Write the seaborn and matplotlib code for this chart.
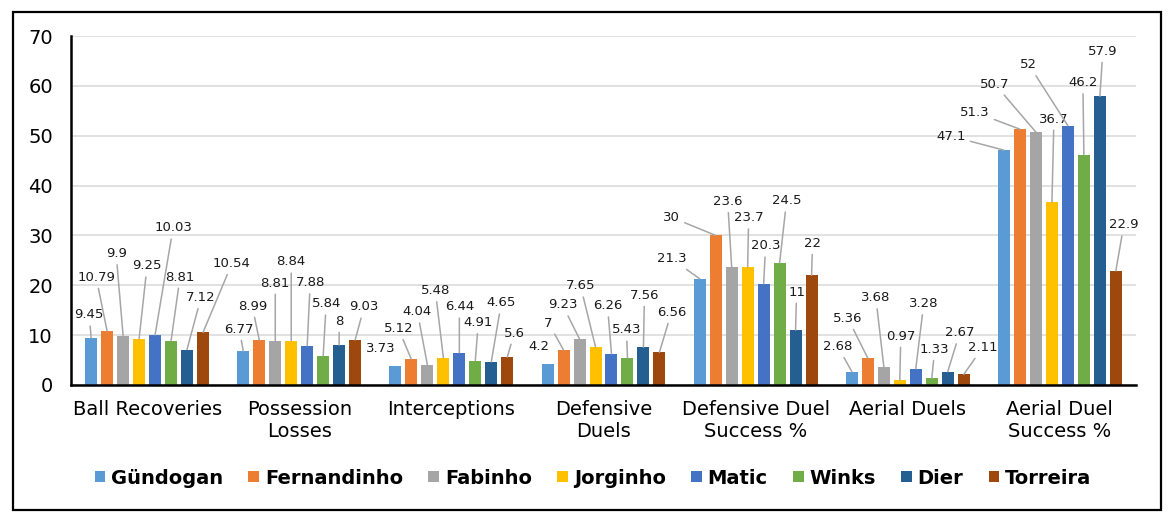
import numpy as np
import pandas as pd
import matplotlib
matplotlib.use("Agg")
import matplotlib.pyplot as plt
from matplotlib.patches import Patch, Rectangle
import seaborn as sns

# ---------------- data ----------------
categories = ["Ball Recoveries", "Possession\nLosses", "Interceptions", "Defensive\nDuels",
              "Defensive Duel\nSuccess %", "Aerial Duels", "Aerial Duel\nSuccess %"]
players = ["Gündogan", "Fernandinho", "Fabinho", "Jorginho", "Matic", "Winks", "Dier", "Torreira"]

gundogan = [9.45, 6.77, 3.73, 4.2, 21.3, 2.68, 47.1]
fernandinho = [10.79, 8.99, 5.12, 7, 30, 5.36, 51.3]
fabinho = [9.9, 8.81, 4.04, 9.23, 23.6, 3.68, 50.7]
jorginho = [9.25, 8.84, 5.48, 7.65, 23.7, 0.97, 36.7]
matic = [10.03, 7.88, 6.44, 6.26, 20.3, 3.28, 52]
winks = [8.81, 5.84, 4.91, 5.43, 24.5, 1.33, 46.2]
dier = [7.12, 8, 4.65, 7.56, 11, 2.67, 57.9]
torreira = [10.54, 9.03, 5.6, 6.56, 22, 2.11, 22.9]

series = [gundogan, fernandinho, fabinho, jorginho, matic, winks, dier, torreira]
yticks = [0, 10, 20, 30, 40, 50, 60, 70]

# ---------------- style ----------------
colors = ["#5B9BD5", "#ED7D31", "#A5A5A5", "#FFC000", "#4472C4", "#70AD47", "#255E91", "#9E480E"]

# data-label offsets in pixels (dx, up) per category row, per player column
label_offsets = [
    [(-2, 23), (-11, 54), (-7, 82), (8, 73), (18, 107), (9, 64), (14, 52), (29, 69)],
    [(-4, 22), (-7, 34), (0, 58), (0, 79), (3, 63), (3, 52), (0, 24), (9, 33)],
    [(-15, 18), (-13, 31), (-10, 53), (-8, 67), (0, 46), (3, 38), (10, 59), (7, 24)],
    [(-9, 18), (-15, 27), (-17, 34), (-15, 61), (-4, 48), (-1, 28), (1, 52), (12, 40)],
    [(-28, 20), (-44, 18), (-4, 66), (1, 49), (2, 38), (7, 62), (1, 38), (1, 32)],
    [(-14, 25), (-20, 40), (-8, 69), (1, 44), (8, 65), (3, 29), (12, 39), (19, 27)],
    [(-53, 14), (-45, 17), (-41, 48), (2, 83), (-39, 61), (-1, 72), (3, 45), (8, 46)],
]

sns.set_style("white")
plt.rcParams["font.family"] = ["DejaVu Sans"]

df = pd.DataFrame({
    "Category": np.tile(categories, len(players)),
    "Player": np.repeat(players, len(categories)),
    "Value": np.concatenate(series),
})

W, H = 1172, 526
fig = plt.figure(figsize=(W / 100, H / 100), dpi=100)
ax = fig.add_axes([71 / W, 1 - 385 / H, (1136 - 71) / W, (385 - 36) / H])

sns.barplot(data=df, x="Category", y="Value", hue="Player", order=categories,
            hue_order=players, palette=colors, width=0.84, gap=0.25,
            saturation=1, errorbar=None, legend=False, ax=ax, linewidth=0)

ax.set_ylim(0, 70)
ax.set_yticks(yticks)
ax.set_xlim(-0.5, len(categories) - 0.5)
ax.set_xlabel("")
ax.set_ylabel("")
ax.yaxis.grid(True, color="#D9D9D9", lw=1.1)
ax.xaxis.grid(False)
ax.set_axisbelow(True)
for s in ["top", "right"]:
    ax.spines[s].set_visible(False)
for s in ["left", "bottom"]:
    ax.spines[s].set_color("black")
    ax.spines[s].set_linewidth(1.8)
ax.tick_params(axis="y", length=0, labelsize=14, pad=13, colors="black")
ax.tick_params(axis="x", length=0, labelsize=14, pad=11, colors="black")

# data labels with leader lines
for j, cont in enumerate(ax.containers):
    for i, bar in enumerate(cont.patches):
        v = series[j][i]
        bx = bar.get_x() + bar.get_width() / 2
        by = bar.get_height()
        dx, up = label_offsets[i][j]
        arrow = None
        if up > 20 or abs(dx) > 20:
            arrow = dict(arrowstyle="-", color="#A6A6A6", lw=1.1, shrinkA=1, shrinkB=0)
        ax.annotate(f"{v:g}", xy=(bx, by), xytext=(dx, up), textcoords="offset pixels",
                    ha="center", va="center", fontsize=9.5, color="#1A1A1A",
                    arrowprops=arrow)

handles = [Patch(facecolor=c, edgecolor="none") for c in colors]
leg = fig.legend(handles, players, ncol=8, loc="center", bbox_to_anchor=(593 / W, 1 - 478 / H),
                 frameon=False, prop=dict(weight="bold", size=14), handlelength=0.55,
                 handleheight=0.55, handletextpad=0.3, columnspacing=1.3, borderaxespad=0)
for t in leg.get_texts():
    t.set_color("black")

fig.patches.append(Rectangle((13 / W, 16 / H), (1161 - 13) / W, (510 - 12) / H,
                             transform=fig.transFigure, fill=False, edgecolor="black",
                             lw=1.6, zorder=10))

fig.savefig("out.png", dpi=100)
